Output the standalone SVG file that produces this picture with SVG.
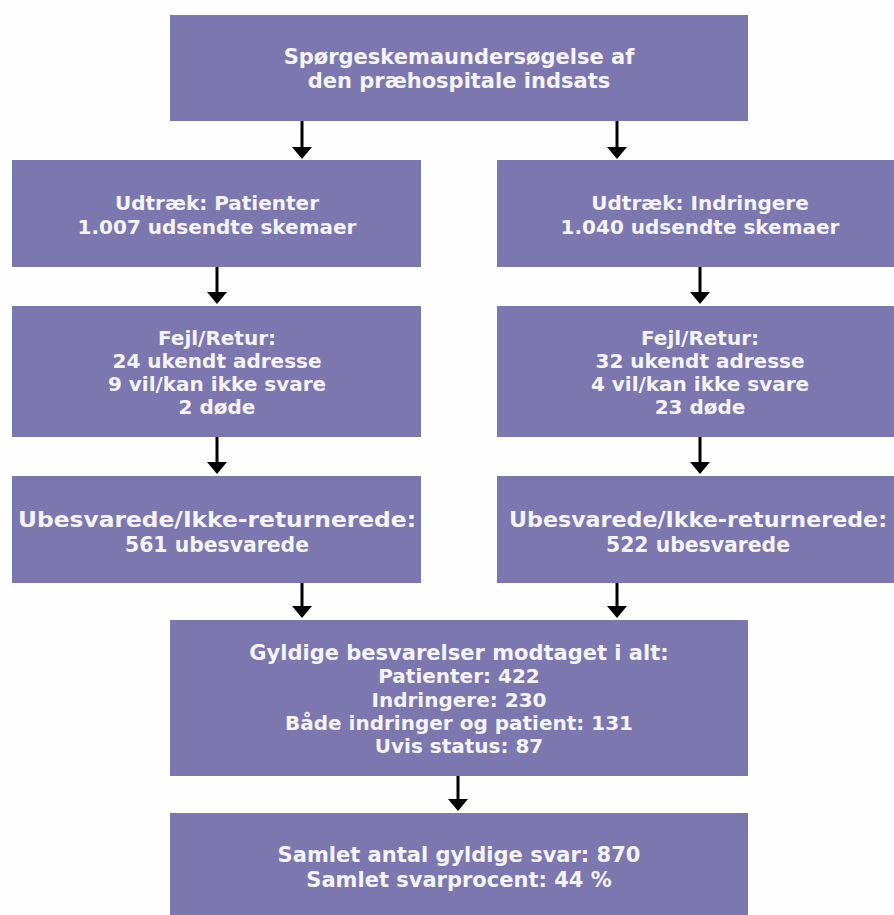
<svg xmlns="http://www.w3.org/2000/svg" width="894" height="915" viewBox="0 0 894 915">
<style>
.box{fill:#7d77af;}
.t{font-family:"DejaVu Sans","Verdana",sans-serif;font-weight:bold;font-size:20px;fill:#f4f4f6;text-anchor:middle;}
.m{font-size:21px;}
.u{font-family:"DejaVu Sans","Verdana",sans-serif;font-weight:bold;font-size:21px;fill:#f4f4f6;text-anchor:middle;}
.c{stroke:#000;stroke-width:3;fill:none;marker-end:url(#ah);}
</style>
<defs>
<marker id="ah" markerUnits="userSpaceOnUse" viewBox="0 0 12 20" refX="2" refY="10" markerWidth="12" markerHeight="20" orient="auto">
<path d="M0,0 L12,10 L0,20 Z" fill="#000"/>
</marker>
</defs>
<rect width="894" height="915" fill="#fefefe"/>
<g id="n-top">
<rect class="box" x="170" y="15" width="578" height="106"/>
<text class="t m" x="459" y="64">Spørgeskemaundersøgelse af</text>
<text class="t m" x="459" y="88">den præhospitale indsats</text>
</g>
<g id="n-udtraek-pat">
<rect class="box" x="12" y="160" width="409" height="107"/>
<text class="t" x="217" y="210">Udtræk: Patienter</text>
<text class="t" x="217" y="234">1.007 udsendte skemaer</text>
</g>
<g id="n-udtraek-ind">
<rect class="box" x="497" y="160" width="409" height="107"/>
<text class="t" x="700" y="210">Udtræk: Indringere</text>
<text class="t" x="700" y="234">1.040 udsendte skemaer</text>
</g>
<g id="n-fejl-pat">
<rect class="box" x="12" y="306" width="409" height="131"/>
<text class="t" x="217" y="345">Fejl/Retur:</text>
<text class="t" x="217" y="368">24 ukendt adresse</text>
<text class="t" x="217" y="391">9 vil/kan ikke svare</text>
<text class="t" x="217" y="414">2 døde</text>
</g>
<g id="n-fejl-ind">
<rect class="box" x="497" y="306" width="409" height="131"/>
<text class="t" x="700" y="345">Fejl/Retur:</text>
<text class="t" x="700" y="368">32 ukendt adresse</text>
<text class="t" x="700" y="391">4 vil/kan ikke svare</text>
<text class="t" x="700" y="414">23 døde</text>
</g>
<g id="n-ubes-pat">
<rect class="box" x="12" y="476" width="409" height="107"/>
<text class="u" x="217" y="527" textLength="398" lengthAdjust="spacingAndGlyphs">Ubesvarede/Ikke-returnerede:</text>
<text class="u" x="217" y="552" textLength="184" lengthAdjust="spacingAndGlyphs">561 ubesvarede</text>
</g>
<g id="n-ubes-ind">
<rect class="box" x="497" y="476" width="409" height="107"/>
<text class="u" x="698" y="527" textLength="378" lengthAdjust="spacingAndGlyphs">Ubesvarede/Ikke-returnerede:</text>
<text class="u" x="698" y="552" textLength="184" lengthAdjust="spacingAndGlyphs">522 ubesvarede</text>
</g>
<g id="n-gyldige">
<rect class="box" x="170" y="620" width="578" height="156"/>
<text class="t m" x="459" y="660">Gyldige besvarelser modtaget i alt:</text>
<text class="t" x="459" y="683">Patienter: 422</text>
<text class="t" x="459" y="707">Indringere: 230</text>
<text class="t" x="459" y="730">Både indringer og patient: 131</text>
<text class="t" x="459" y="753">Uvis status: 87</text>
</g>
<g id="n-samlet">
<rect class="box" x="170" y="813" width="578" height="102"/>
<text class="t m" x="459" y="862">Samlet antal gyldige svar: 870</text>
<text class="t m" x="459" y="887">Samlet svarprocent: 44 %</text>
</g>
<g id="connectors">
<line class="c" x1="302" y1="121" x2="302" y2="149"/>
<line class="c" x1="617" y1="121" x2="617" y2="149"/>
<line class="c" x1="217" y1="267" x2="217" y2="294"/>
<line class="c" x1="700" y1="267" x2="700" y2="294"/>
<line class="c" x1="217" y1="437" x2="217" y2="464"/>
<line class="c" x1="700" y1="437" x2="700" y2="464"/>
<line class="c" x1="302" y1="583" x2="302" y2="608"/>
<line class="c" x1="617" y1="583" x2="617" y2="608"/>
<line class="c" x1="458" y1="776" x2="458" y2="801"/>
</g>
</svg>
